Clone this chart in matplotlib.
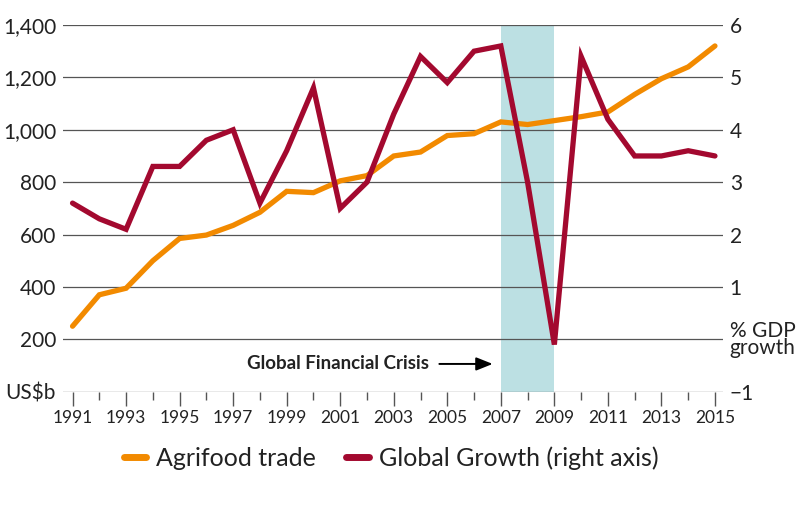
import matplotlib
matplotlib.use("Agg")
import matplotlib.pyplot as plt
from matplotlib.ticker import FixedLocator

plt.rcParams['font.family'] = ['Lato', 'DejaVu Sans']

years = list(range(1991, 2016))
agrifood = [250, 370, 395, 500, 585, 598, 635, 685, 765, 760, 805, 825, 900, 915,
            978, 985, 1030, 1020, 1035, 1050, 1068, 1135, 1195, 1240, 1320]
growth = [2.6, 2.3, 2.1, 3.3, 3.3, 3.8, 4.0, 2.6, 3.6, 4.8, 2.5, 3.0, 4.3, 5.4,
          4.9, 5.5, 5.6, 3.0, -0.1, 5.4, 4.2, 3.5, 3.5, 3.6, 3.5]
left_ticks = [0, 200, 400, 600, 800, 1000, 1200, 1400]
left_labels = ['US$b', '200', '400', '600', '800', '1,000', '1,200', '1,400']
right_ticks = [-1, 0, 1, 2, 3, 4, 5, 6]
right_labels = ['\u22121', '% GDP\ngrowth', '1', '2', '3', '4', '5', '6']
crisis = (2007, 2009)

orange = '#F28A00'
red = '#A3092F'
band = '#BCE0E3'
grid = '#555555'

fig = plt.figure(figsize=(8, 5.07), dpi=100)
ax = fig.add_axes([0.0788, 0.2274, 0.8246, 0.7233])
ax2 = ax.twinx()

ax.set_xlim(1990.645, 2015.29)
ax.set_ylim(0, 1400)
ax2.set_ylim(-1, 6)

ax.axvspan(crisis[0], crisis[1], color=band, lw=0, zorder=0)
for t in left_ticks:
    ax.axhline(t, color=grid, lw=0.9, zorder=1)

ax.plot(years, agrifood, color=orange, lw=3.8, solid_capstyle='round',
        solid_joinstyle='miter', zorder=3)
ax2.plot(years, growth, color=red, lw=3.8, solid_capstyle='round',
         solid_joinstyle='miter', zorder=3)

for a in (ax, ax2):
    for s in a.spines.values():
        s.set_visible(False)

ax.set_yticks(left_ticks)
ax.set_yticklabels(left_labels)
ax2.set_yticks(right_ticks)
ax2.set_yticklabels(right_labels, linespacing=0.8)
ax.tick_params(axis='y', length=0, pad=5, labelsize=15, labelcolor='#222222')
ax2.tick_params(axis='y', length=0, pad=5, labelsize=15, labelcolor='#222222')

ax.xaxis.set_major_locator(FixedLocator(years[::2]))
ax.xaxis.set_minor_locator(FixedLocator(years[1::2]))
ax.set_xticklabels([str(y) for y in years[::2]])
ax.tick_params(axis='x', which='major', length=10, width=1, color=grid,
               labelsize=12.5, pad=3, labelcolor='#222222')
ax.tick_params(axis='x', which='minor', length=6, width=1, color=grid)

ax.annotate('', xy=(2006.8, 106), xytext=(2004.6, 106),
            arrowprops=dict(arrowstyle='-|>,head_length=1.0,head_width=0.4',
                            color='black', lw=1.4), zorder=5)
ax.text(2004.3, 106, 'Global Financial Crisis', ha='right', va='center',
        fontsize=13.5, fontweight='bold', color='#222222', zorder=5)

h1, = ax.plot([], [], color=orange, lw=5, solid_capstyle='round', label='Agrifood trade')
h2, = ax.plot([], [], color=red, lw=5, solid_capstyle='round', label='Global Growth (right axis)')
fig.legend(handles=[h1, h2], loc='center', bbox_to_anchor=(0.489, 0.097), ncol=2,
           frameon=False, fontsize=18, handlelength=0.9, handletextpad=0.4,
           columnspacing=1.2, labelcolor='#222222')

fig.savefig('out.png', dpi=100)
